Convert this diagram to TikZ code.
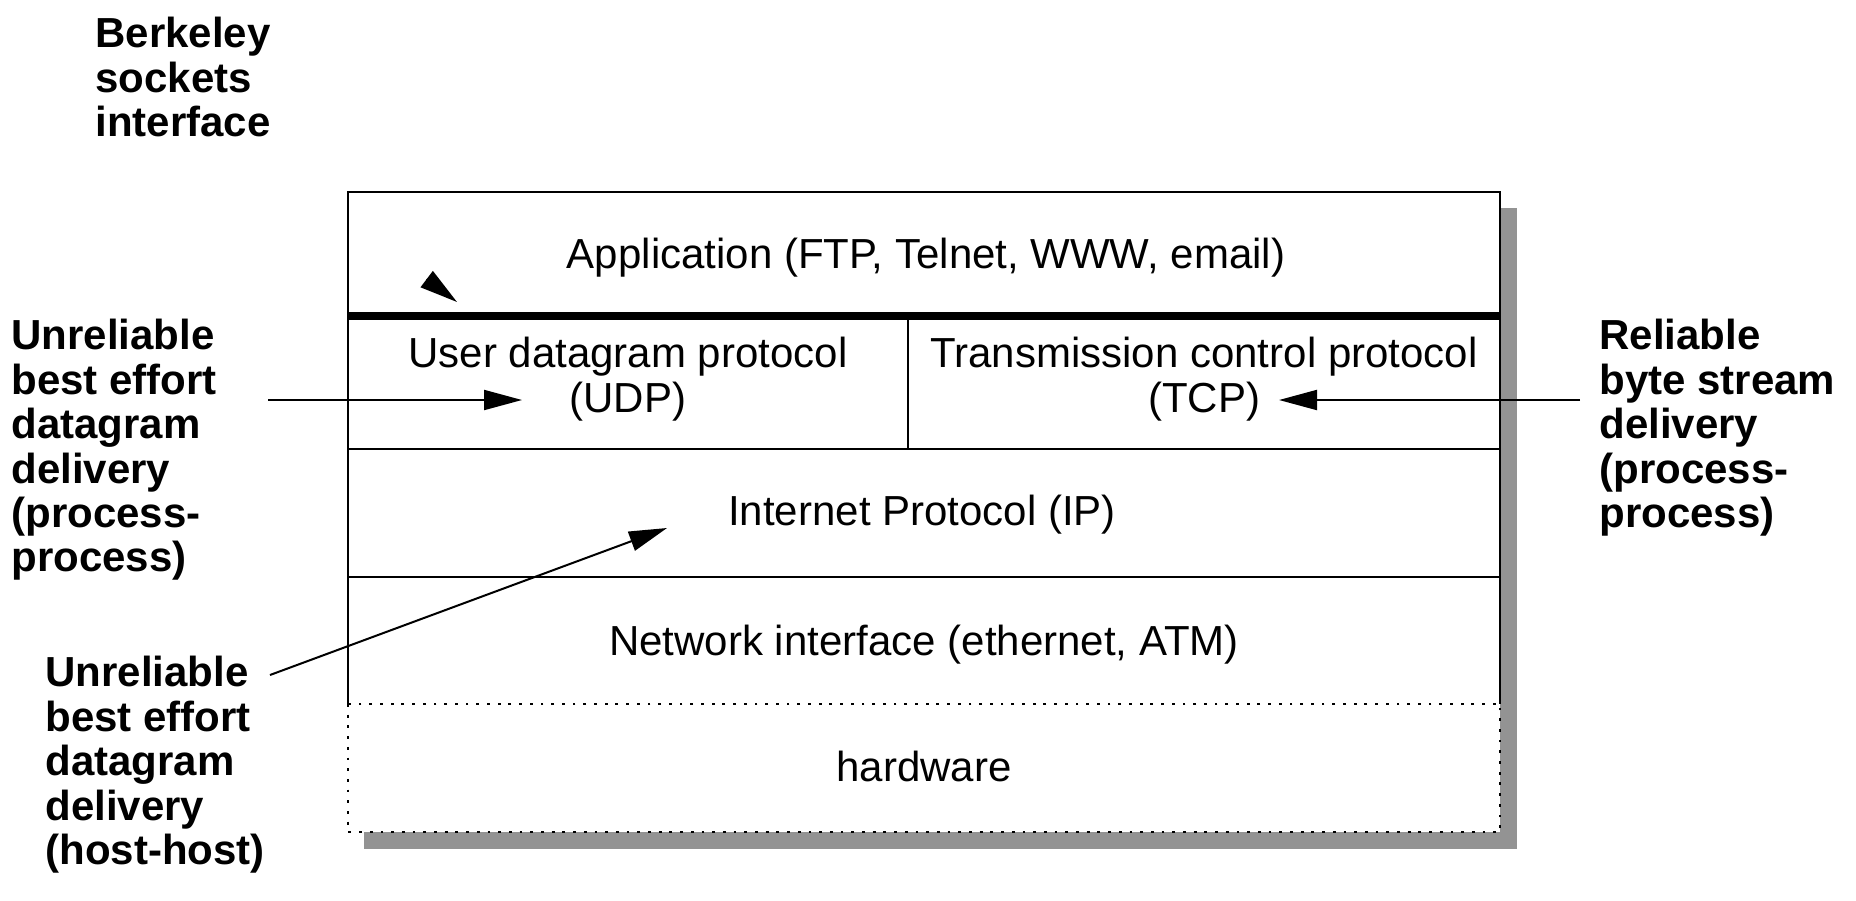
\documentclass[tikz,border=0pt]{standalone}
\usepackage{fontspec}
\setmainfont{Liberation Sans}
\usetikzlibrary{arrows.meta}
\definecolor{shadowgray}{RGB}{147,147,147}
\begin{document}
\begin{tikzpicture}[x=0.5pt,y=-0.5pt,
  lbl/.style={font=\fontsize{21pt}{22.2pt}\selectfont\bfseries, align=left, anchor=north west, inner sep=0pt},
  celltext/.style={font=\fontsize{21pt}{22.2pt}\selectfont, align=center, inner sep=0pt},
  frame/.style={line width=1.4pt},
  sepline/.style={line width=1.2pt},
  thickline/.style={line width=4pt},
  dotline/.style={line width=1.4pt, dash pattern=on 1.4pt off 3.95pt},
  arr/.style={line width=1pt, -{Triangle[length=19pt,width=10pt]}},
]
\useasboundingbox (0,0) rectangle (1856,900);
% shadow and box
\fill[shadowgray] (364,208) rectangle (1517,849);
\fill[white] (348,192) rectangle (1500,832);
\draw[frame] (348,704) -- (348,192) -- (1500,192) -- (1500,704);
\draw[sepline] (348,449) -- (1500,449);
\draw[sepline] (348,577) -- (1500,577);
\draw[sepline] (908,316) -- (908,449);
\draw[thickline] (347.3,316) -- (1500.7,316);
\draw[dotline] (348,704) rectangle (1500,832);
% cell texts
\node[celltext] (app) at (926,258) {Application (FTP, Telnet, WWW, email)};
\node[celltext] (udp) at (628,379) {User datagram protocol\\(UDP)};
\node[celltext] (tcp) at (1204,379) {Transmission control protocol\\(TCP)};
\node[celltext] (ip) at (922,515) {Internet Protocol (IP)};
\node[celltext] (net) at (924,645) {Network interface (ethernet, ATM)};
\node[celltext] (hw) at (924,766) {hardware};
% labels
\node[lbl] (berk) at (95,17) {Berkeley\\sockets\\interface};
\node[lbl] (udplbl) at (11,319) {Unreliable\\best effort\\datagram\\delivery\\(process-\\process)};
\node[lbl] (iplbl) at (45,656) {Unreliable\\best effort\\datagram\\delivery\\(host-host)};
\node[lbl] (tcplbl) at (1599,319) {Reliable\\byte stream\\delivery\\(process-\\process)};
% arrows
\coordinate (udpS) at (268,400);
\coordinate (udpT) at (522,400);
\coordinate (tcpS) at (1580,400);
\coordinate (tcpT) at (1279,400);
\coordinate (ipS) at (270,675);
\coordinate (ipT) at (667,528);
\coordinate (berkS) at (426.7,279.1);
\coordinate (berkT) at (457,302);
\draw[arr] (udpS) -- (udpT);
\draw[arr] (tcpS) -- (tcpT);
\draw[arr] (ipS) -- (ipT);
\draw[arr] (berkS) -- (berkT);
\end{tikzpicture}
\end{document}
